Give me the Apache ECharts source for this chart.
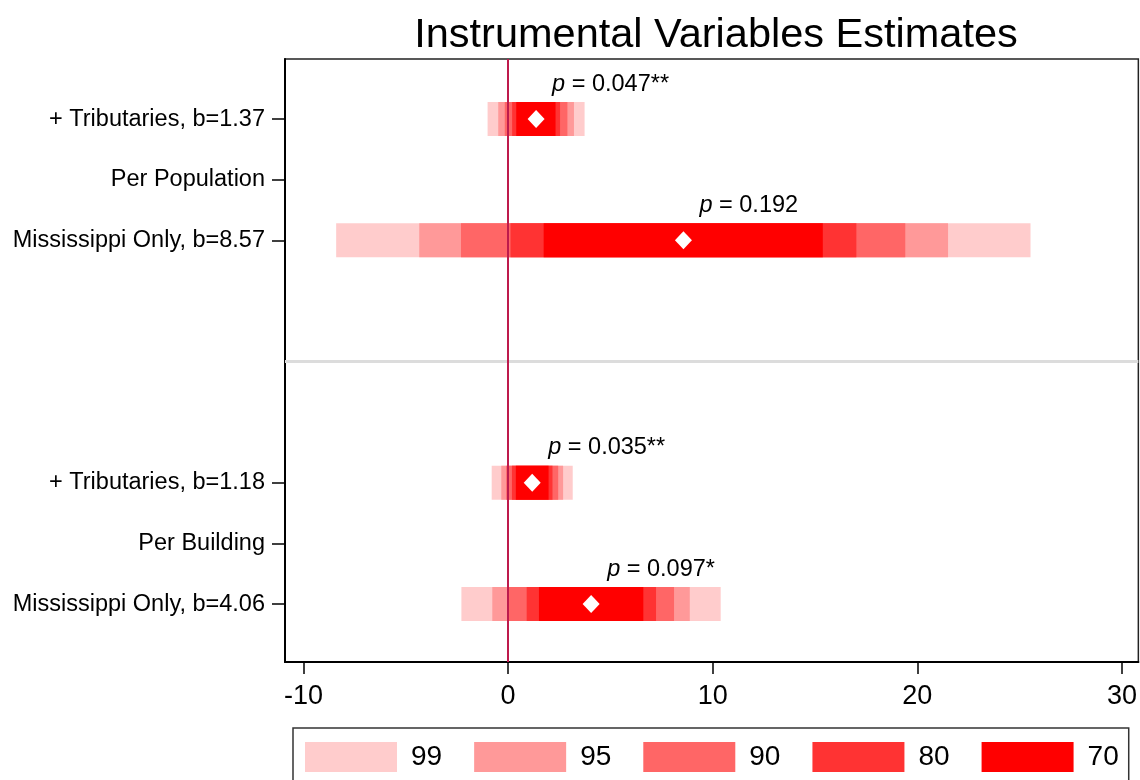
<!DOCTYPE html>
<html>
<head>
<meta charset="utf-8">
<title>Instrumental Variables Estimates</title>
<script src="https://cdn.jsdelivr.net/npm/echarts@6/dist/echarts.min.js"></script>
<style>
    html, body { margin: 0; padding: 0; background: #fff; }
    #chart { width: 1140px; height: 780px; }
</style>
</head>
<body>
<div id="chart"></div>
<script>
const fontFamily = 'Liberation Sans, Arial, sans-serif';

// y rows (0 = top)
const rowPos = [0, 1, 2, 6, 7, 8];
const rowLabels = ['+ Tributaries, b=1.37', 'Per Population', 'Mississippi Only, b=8.57',
    '+ Tributaries, b=1.18', 'Per Building', 'Mississippi Only, b=4.06'];

// one entry per estimate
const estRow = [0, 2, 6, 8];
const coef = [1.37, 8.57, 1.18, 4.06];
const pText = ['0.047**', '0.192', '0.035**', '0.097*'];

// confidence bands [low, high]
const ci99 = [[-1.00, 3.74], [-8.40, 25.53], [-0.80, 3.16], [-2.28, 10.39]];
const ci95 = [[-0.48, 3.22], [-4.34, 21.50], [-0.33, 2.69], [-0.77, 8.88]];
const ci90 = [[-0.16, 2.90], [-2.30, 19.41], [-0.09, 2.45], [0.03, 8.11]];
const ci80 = [[0.20, 2.54], [0.12, 17.02], [0.19, 2.17], [0.91, 7.23]];
const ci70 = [[0.40, 2.32], [1.74, 15.38], [0.38, 1.98], [1.51, 6.61]];

const levelNames = ['99', '95', '90', '80', '70'];
const levelColors = ['#FFCCCC', '#FF9999', '#FF6666', '#FF3333', '#FF0000'];
const levelBands = [ci99, ci95, ci90, ci80, ci70];

const xTicks = [-10, 0, 10, 20, 30];

const chart = echarts.init(document.getElementById('chart'));

function renderBand(params, api) {
    const lo = api.coord([api.value(0), api.value(2)]);
    const hi = api.coord([api.value(1), api.value(2)]);
    const h = api.size([0, 1])[1] * 0.56;
    return {
        type: 'rect',
        shape: {x: lo[0], y: lo[1] - h / 2, width: hi[0] - lo[0], height: h},
        style: {fill: api.visual('color')}
    };
}

const bandSeries = levelNames.map(function (name, k) {
    return {
        name: name,
        type: 'custom',
        z: 2,
        renderItem: renderBand,
        itemStyle: {color: levelColors[k]},
        encode: {x: [0, 1], y: 2},
        data: levelBands[k].map(function (b, i) {
            return [b[0], b[1], estRow[i]];
        })
    };
});

const option = {
    backgroundColor: '#fff',
    animation: false,
    title: {
        text: 'Instrumental Variables Estimates',
        left: 711,
        textAlign: 'center',
        top: 10,
        textStyle: {fontFamily: fontFamily, fontSize: 41.5, fontWeight: 'normal', color: '#000'}
    },
    legend: {
        data: levelNames,
        left: 293,
        top: 728,
        orient: 'horizontal',
        icon: 'rect',
        itemWidth: 92,
        itemHeight: 30,
        itemGap: 32,
        padding: [14, 10, 14, 12],
        borderColor: '#333',
        borderWidth: 1.5,
        textStyle: {fontFamily: fontFamily, fontSize: 28, color: '#000', padding: [0, 0, 0, 9]}
    },
    grid: {
        left: 285,
        right: 1,
        top: 59,
        bottom: 118,
        show: true,
        borderColor: '#222',
        borderWidth: 1.5
    },
    xAxis: {
        type: 'value',
        min: -10.9,
        max: 30.8,
        splitLine: {show: false},
        axisLine: {onZero: false, lineStyle: {color: '#000', width: 2}},
        axisTick: {customValues: xTicks, length: 12, lineStyle: {color: '#000', width: 1.5}},
        axisLabel: {
            customValues: xTicks,
            margin: 21,
            fontFamily: fontFamily,
            fontSize: 27,
            color: '#000'
        }
    },
    yAxis: {
        type: 'value',
        inverse: true,
        min: -0.99,
        max: 8.955,
        splitLine: {show: false},
        axisLine: {show: true, onZero: false, lineStyle: {color: '#000', width: 2}},
        axisTick: {show: true, customValues: rowPos, length: 13, lineStyle: {color: '#000', width: 1.5}},
        axisLabel: {
            customValues: rowPos,
            margin: 20,
            fontFamily: fontFamily,
            fontSize: 23.5,
            color: '#000',
            formatter: function (value) {
                const i = rowPos.indexOf(value);
                return i >= 0 ? rowLabels[i] : '';
            }
        }
    },
    series: [
        {
            name: 'refs',
            type: 'scatter',
            z: 1,
            data: [],
            markLine: {
                silent: true,
                symbol: 'none',
                label: {show: false},
                data: [
                    {yAxis: 4, lineStyle: {color: '#DCDCDC', width: 3, type: 'solid'}},
                    {xAxis: 0, lineStyle: {color: '#BE1A4C', width: 2, type: 'solid'}}
                ]
            }
        }
    ].concat(bandSeries).concat([
        {
            name: 'estimate',
            type: 'scatter',
            z: 3,
            symbol: 'diamond',
            symbolSize: [17, 18],
            itemStyle: {color: '#fff', opacity: 1},
            data: coef.map(function (b, i) {
                return [b, estRow[i]];
            }),
            label: {
                show: true,
                position: [24.5, -26],
                align: 'left',
                verticalAlign: 'middle',
                fontFamily: fontFamily,
                fontSize: 23.5,
                color: '#000',
                opacity: 1,
                formatter: function (p) {
                    return '{i|p} = ' + pText[p.dataIndex];
                },
                rich: {
                    i: {fontStyle: 'italic', fontFamily: fontFamily, fontSize: 23.5, color: '#000'}
                }
            }
        }
    ])
};

chart.setOption(option);
</script>
</body>
</html>
